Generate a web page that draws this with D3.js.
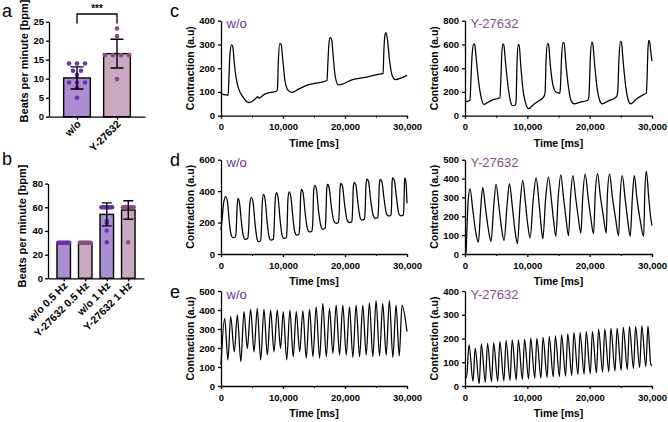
<!DOCTYPE html>
<html>
<head>
<meta charset="utf-8">
<script src="https://cdn.jsdelivr.net/npm/d3@7"></script>
<style>
  body { margin: 0; background: #fff; }
  svg { display: block; font-family: "Liberation Sans", Arial, sans-serif; }
</style>
</head>
<body>
<svg id="fig" width="668" height="422"></svg>
<script>
// ---- panel a : beats per minute ----
const groupsA = ["w/o", "Y-27632"];
const meansA = [10.2, 16.6];
const sdA = [2.9, 3.8];
const pointsA = [
  [14, 14, 14, 12.1, 11, 12.1, 9, 9, 9, 7.7, 5],
  [23.2, 21.2, 16.2, 16.2, 16.2, 16.2, 9.9]
];
const ticksA = [0, 5, 10, 15, 20, 25];

// ---- panel b : paced beats per minute ----
const groupsB = ["w/o 0.5 Hz", "Y-27632 0.5 Hz", "w/o 1 Hz", "Y-27632 1 Hz"];
const meansB = [30, 30, 54, 57.7];
const sdB = [0, 0, 9.7, 7.8];
const pointsB = [
  [30, 30, 30, 30, 30, 30, 30, 30, 30, 30],
  [30, 30, 30, 30, 30, 30, 30, 30, 30, 30],
  [60, 60, 60, 60, 60, 60, 60, 60, 60, 60, 48.5, 46.5, 40.3, 30.4],
  [60, 60, 60, 60, 60, 60, 60, 60, 60, 60, 30.4]
];
const ticksB = [0, 20, 40, 60, 80];

// ---- contraction traces, [time ms, a.u.] ----
const timeTicks = [0, 10000, 20000, 30000];
const timeMinor = [5000, 15000, 25000];

const cWoTrace = [[0,95],[300,90],[700,88],[1150,86],[1250,140],[1450,260],[1700,298],[1900,290],[2150,220],[2500,150],
  [2900,110],[3500,80],[4500,55],[5500,70],[5900,80],[6100,74],[7000,90],[8000,98],[8900,102],[9100,110],[9250,230],
  [9500,305],[9700,300],[9950,240],[10300,150],[10800,108],[11500,98],[12500,112],[14000,130],[16000,140],[17100,148],
  [17200,200],[17400,300],[17600,330],[17850,320],[18100,250],[18400,170],[18900,130],[19500,132],[21000,150],[23000,160],
  [25000,172],[26150,178],[26250,260],[26450,340],[26600,350],[26850,320],[27150,240],[27600,170],[28100,152],[29000,158],[30000,170]];

const cYTrace = [[0,128],[300,118],[600,125],[800,130],[950,300],[1150,520],[1400,605],[1550,600],[1800,480],[2200,280],
  [2600,150],[3050,95],[3600,110],[4500,135],[5300,145],[5600,152],[5750,300],[5900,520],[6100,605],[6250,590],[6500,450],
  [6900,250],[7300,120],[7600,85],[8100,90],[8200,130],[8350,450],[8550,600],[8700,590],[8950,420],[9300,220],[9700,110],
  [10200,60],[11000,95],[12000,130],[12700,165],[12850,200],[13000,460],[13250,610],[13400,600],[13700,420],[14100,260],
  [14600,200],[15200,190],[15300,230],[15500,500],[15750,618],[15900,610],[16200,430],[16600,240],[17000,130],[17500,100],
  [18500,115],[19700,130],[19900,180],[20100,480],[20350,620],[20500,605],[20800,430],[21200,230],[21600,130],[22000,100],
  [23000,125],[24300,160],[24500,200],[24700,480],[24950,625],[25100,615],[25400,440],[25800,240],[26200,130],[26600,100],
  [27500,140],[28700,180],[29100,190],[29200,300],[29350,560],[29500,635],[29650,615],[29800,540],[30000,460]];

const dWoTrace = [[0,150],[200,230],[450,330],[754,365],[1050,330],[1350,200],[1650,120],[1900,104],[2300,108],[2450,150],
  [2600,300],[2747,354],[3000,320],[3300,200],[3600,115],[3900,92],[4300,98],[4450,150],[4650,320],[4901,360],[5200,320],
  [5500,190],[5800,100],[6050,78],[6400,85],[6500,140],[6650,320],[6840,380],[7100,350],[7450,200],[7750,110],[8050,88],
  [8450,95],[8550,150],[8750,350],[8941,390],[9200,360],[9550,210],[9850,120],[10100,100],[10550,105],[10650,160],[10800,350],
  [10987,396],[11250,370],[11600,230],[11900,140],[12200,120],[12550,125],[12700,180],[12850,370],[12980,411],[13250,385],
  [13600,250],[13950,160],[14250,140],[14650,145],[14800,200],[14950,400],[15135,437],[15400,410],[15750,270],[16100,180],
  [16400,157],[16800,165],[16900,220],[17050,410],[17180,443],[17450,420],[17800,300],[18200,210],[18550,195],[18950,200],
  [19050,250],[19200,420],[19336,449],[19600,430],[19950,310],[20350,215],[20700,199],[21100,205],[21200,260],[21350,430],
  [21490,456],[21750,440],[22100,320],[22450,230],[22700,216],[23150,222],[23250,280],[23400,450],[23537,477],[23800,460],
  [24150,340],[24550,245],[24850,227],[25300,232],[25400,290],[25550,450],[25690,475],[25950,460],[26300,350],[26700,255],
  [27000,242],[27400,245],[27500,300],[27600,460],[27684,485],[27950,470],[28300,360],[28700,255],[29050,242],[29400,248],
  [29500,300],[29600,460],[29677,485],[29850,450],[30000,322]];

const dYTrace = [[0,0],[150,5],[300,120],[500,280],[804,345],[1250,235],[1700,120],[2143,62],
  [2500,230],[2839,353],[3300,240],[3750,130],[4178,67],
  [4600,250],[4982,371],[5450,250],[5850,140],[6268,72],
  [6750,260],[7125,373],[7600,250],[8000,130],[8410,55],
  [8850,270],[9268,390],[9700,270],[10050,160],[10446,85],
  [10950,290],[11410,403],[11850,280],[12150,170],[12482,81],
  [12950,300],[13393,408],[13850,290],[14200,180],[14571,94],
  [14950,300],[15375,420],[15800,300],[16200,190],[16607,97],
  [16950,310],[17303,415],[17750,300],[18150,200],[18589,111],
  [18900,310],[19285,424],[19750,300],[20150,200],[20624,108],
  [20900,320],[21267,426],[21700,310],[22200,200],[22660,111],
  [22850,320],[23196,424],[23650,300],[24150,190],[24642,97],
  [24900,310],[25231,415],[25700,290],[26100,180],[26517,94],
  [26850,300],[27160,415],[27600,290],[28100,180],[28660,94],
  [28850,330],[29089,438],[29500,290],[29800,190],[30000,150]];

const eWoTrace = [[0,110],[590,356],[1120,137],[1556,365],[2150,180],[2630,374],[3200,128],[3703,391],[4250,198],[4777,403],
  [5330,180],[5850,409],[6400,137],[6924,403],[7480,163],[7997,400],[8550,180],[9071,400],[9600,198],[10037,391],[10600,137],
  [11110,400],[11650,154],[12130,391],[12700,180],[13203,396],[13750,146],[14277,403],[14830,154],[15350,417],[15900,146],
  [16424,435],[16980,154],[17497,409],[18050,172],[18571,426],[19120,163],[19644,426],[20200,163],[20718,417],[21270,151],
  [21791,426],[22350,154],[22865,426],[23420,163],[23938,438],[24490,154],[25012,449],[25570,158],[26085,435],[26640,163],
  [27159,449],[27720,151],[28232,426],[28750,158],[29198,426],[30000,286]];

const eYTrace = [[0,38],[250,36],[643,173],[1290,20],[1630,159],[2280,10],[2620,177],[3270,15],[3610,180],[4260,18],
  [4600,182],[5250,20],[5590,187],[6240,22],[6580,191],[7230,24],[7570,194],[8220,26],[8560,194],[9210,28],[9550,196],
  [10200,30],[10540,201],[11190,32],[11530,201],[12180,34],[12520,205],[13170,36],[13510,208],[14160,38],[14500,211],
  [15150,40],[15490,215],[16140,42],[16480,219],[17130,45],[17470,225],[18120,48],[18460,225],[19110,50],[19450,229],
  [20100,52],[20440,229],[21090,55],[21430,239],[22080,58],[22420,239],[23070,60],[23410,243],[24060,63],[24400,243],
  [25050,66],[25390,247],[26040,70],[26380,250],[27030,74],[27370,250],[28020,78],[28360,253],[29010,82],[29350,252],
  [29800,92],[30000,84]];

const yTicksCWo = [0, 100, 200, 300, 400];
const yTicksCY = [0, 200, 400, 600, 800];
const yTicksDWo = [0, 200, 400, 600];
const yTicksDY = [0, 100, 200, 300, 400, 500];
const yTicksEWo = [0, 100, 200, 300, 400, 500];
const yTicksEY = [0, 100, 200, 300, 400];

// ---- styling ----
const fillColors = ["#a98ed2", "#c9a9c2"];
const dotColors = ["#6b30ae", "#8c4b86"];
const woColor = "#7030a0";
const yColor = "#8e4b8c";

const svg = d3.select("#fig");
svg.append("rect").attr("width", 668).attr("height", 422).attr("fill", "#fff");

function styleAxis(ax, size) {
  ax.select(".domain").attr("stroke", "#000").attr("stroke-width", 1.3);
  ax.selectAll(".tick line").attr("stroke", "#000").attr("stroke-width", 1.3);
  ax.selectAll("text")
    .attr("font-family", "Liberation Sans, Arial, sans-serif")
    .attr("font-weight", "bold")
    .attr("font-size", size)
    .attr("fill", "#000");
}

function panelLetter(x, y, s) {
  svg.append("text").attr("x", x).attr("y", y)
    .attr("font-size", 18).attr("fill", "#000").text(s);
}

function barPanel(p) {
  const x = d3.scalePoint().domain(p.groups).range([p.x0, p.x1]).padding(p.pad);
  const y = d3.scaleLinear().domain([0, p.yMax]).range([p.yb, p.yt]);
  const g = svg.append("g");

  g.selectAll(".bar")
    .data(p.groups)
    .enter()
    .append("rect")
    .attr("x", (d) => x(d) - p.barW / 2)
    .attr("y", (d, i) => y(p.means[i]))
    .attr("width", p.barW)
    .attr("height", (d, i) => p.yb - y(p.means[i]))
    .attr("fill", (d, i) => fillColors[i % 2])
    .attr("stroke", "#000")
    .attr("stroke-width", 1.4);

  // dots, same values side by side
  p.groups.forEach((grp, i) => {
    const vals = p.points[i];
    const counts = d3.rollup(vals, (v) => v.length, (v) => v);
    const seen = new Map();
    vals.forEach((v) => {
      const n = counts.get(v);
      const k = seen.get(v) || 0;
      seen.set(v, k + 1);
      g.append("circle")
        .attr("cx", x(grp) + (k - (n - 1) / 2) * p.spread)
        .attr("cy", y(v))
        .attr("r", p.r)
        .attr("fill", dotColors[i % 2]);
    });
  });

  // error bars
  p.groups.forEach((grp, i) => {
    if (p.sd[i] <= 0) return;
    const cx = x(grp);
    const top = y(p.means[i] + p.sd[i]);
    const bot = y(p.means[i] - p.sd[i]);
    g.append("path")
      .attr("d", `M${cx},${top}V${bot}M${cx - p.cap / 2},${top}H${cx + p.cap / 2}M${cx - p.cap / 2},${bot}H${cx + p.cap / 2}`)
      .attr("stroke", "#000").attr("stroke-width", 1.4).attr("fill", "none");
  });

  const yAx = g.append("g").attr("transform", `translate(${p.x0},0)`)
    .call(d3.axisLeft(y).tickValues(p.ticks).tickSize(3).tickPadding(2).tickSizeOuter(0));
  styleAxis(yAx, 9.5);

  const xAx = g.append("g").attr("transform", `translate(0,${p.yb})`)
    .call(d3.axisBottom(x).tickSize(3).tickSizeOuter(0));
  styleAxis(xAx, 10.5);
  xAx.selectAll("text")
    .attr("x", 0).attr("y", 0).attr("dy", 0)
    .attr("text-anchor", "end")
    .attr("transform", "translate(4,8) rotate(-45)");

  g.append("text")
    .attr("transform", `translate(${p.labelX},${p.labelY}) rotate(-90)`)
    .attr("text-anchor", "middle")
    .attr("dy", "0.35em")
    .attr("font-weight", "bold").attr("font-size", 11)
    .text("Beats per minute [bpm]");
  return { x, y, g };
}

// panel a
const pa = barPanel({
  groups: groupsA, means: meansA, sd: sdA, points: pointsA, ticks: ticksA,
  x0: 49, x1: 145, pad: 0.7, yb: 116.7, yt: 21.7, yMax: 25,
  barW: 26.7, r: 2.3, spread: 8, cap: 13, labelX: 24, labelY: 61
});
// significance bracket
{
  const xa = pa.x(groupsA[0]), xb = pa.x(groupsA[1]);
  pa.g.append("path")
    .attr("d", `M${xa},23.5V14H${xb}V23.5`)
    .attr("stroke", "#000").attr("stroke-width", 1.3).attr("fill", "none");
  pa.g.append("text").attr("x", (xa + xb) / 2).attr("y", 11.5)
    .attr("text-anchor", "middle").attr("font-weight", "bold").attr("font-size", 10)
    .text("***");
}

// panel b
barPanel({
  groups: groupsB, means: meansB, sd: sdB, points: pointsB, ticks: ticksB,
  x0: 48, x1: 144, pad: 0.73, yb: 278.3, yt: 183.6, yMax: 80,
  barW: 13.5, r: 2.2, spread: 1.2, cap: 10, labelX: 22, labelY: 226
});

panelLetter(2, 16.5, "a");
panelLetter(2, 165, "b");
panelLetter(170, 16.5, "c");
panelLetter(170, 166, "d");
panelLetter(170, 298, "e");

// ---- trace panels ----
function tracePanel(p) {
  const x = d3.scaleLinear().domain([0, 30000]).range([p.x0, p.x1]);
  const y = d3.scaleLinear().domain([0, d3.max(p.ticks)]).range([p.yb, p.yt]);
  const g = svg.append("g");

  const line = d3.line()
    .x((d) => x(d[0]))
    .y((d) => y(d[1]))
    .curve(d3.curveMonotoneX);
  g.append("path")
    .datum(p.trace)
    .attr("fill", "none")
    .attr("stroke", "#000")
    .attr("stroke-width", 1.25)
    .attr("stroke-linejoin", "round")
    .attr("d", line);

  const minor = g.append("g").attr("transform", `translate(0,${p.yb})`)
    .call(d3.axisBottom(x).tickValues(timeMinor).tickFormat("").tickSize(2).tickSizeOuter(0));
  minor.select(".domain").remove();
  minor.selectAll(".tick line").attr("stroke", "#000").attr("stroke-width", 1.1);

  const xAx = g.append("g").attr("transform", `translate(0,${p.yb})`)
    .call(d3.axisBottom(x).tickValues(timeTicks).tickFormat(d3.format(",")).tickSize(3).tickPadding(5).tickSizeOuter(0));
  styleAxis(xAx, 9.5);

  const yAx = g.append("g").attr("transform", `translate(${p.x0},0)`)
    .call(d3.axisLeft(y).tickValues(p.ticks).tickSize(3).tickPadding(3).tickSizeOuter(0));
  styleAxis(yAx, 9.5);

  g.append("text")
    .attr("x", (p.x0 + p.x1) / 2).attr("y", p.yb + 31)
    .attr("text-anchor", "middle")
    .attr("font-weight", "bold").attr("font-size", 10.5)
    .text("Time [ms]");

  g.append("text")
    .attr("transform", `translate(${p.x0 - 31},${(p.yb + p.yt) / 2}) rotate(-90)`)
    .attr("text-anchor", "middle")
    .attr("dy", "0.35em")
    .attr("font-weight", "bold").attr("font-size", 10.5)
    .text("Contraction (a.u)");

  g.append("text")
    .attr("x", p.x0 + 5.5).attr("y", p.yt + 7.5)
    .attr("font-size", 13)
    .attr("fill", p.color)
    .text(p.title);
}

const leftX = [221, 407];
const rightX = [465, 652];
const rows = [[115.7, 20.7], [254, 159.7], [386, 291]];

tracePanel({ x0: leftX[0], x1: leftX[1], yb: rows[0][0], yt: rows[0][1], ticks: yTicksCWo, trace: cWoTrace, title: "w/o", color: woColor });
tracePanel({ x0: rightX[0], x1: rightX[1], yb: rows[0][0], yt: rows[0][1], ticks: yTicksCY, trace: cYTrace, title: "Y-27632", color: yColor });
tracePanel({ x0: leftX[0], x1: leftX[1], yb: rows[1][0], yt: rows[1][1], ticks: yTicksDWo, trace: dWoTrace, title: "w/o", color: woColor });
tracePanel({ x0: rightX[0], x1: rightX[1], yb: rows[1][0], yt: rows[1][1], ticks: yTicksDY, trace: dYTrace, title: "Y-27632", color: yColor });
tracePanel({ x0: leftX[0], x1: leftX[1], yb: rows[2][0], yt: rows[2][1], ticks: yTicksEWo, trace: eWoTrace, title: "w/o", color: woColor });
tracePanel({ x0: rightX[0], x1: rightX[1], yb: rows[2][0], yt: rows[2][1], ticks: yTicksEY, trace: eYTrace, title: "Y-27632", color: yColor });
</script>
</body>
</html>
